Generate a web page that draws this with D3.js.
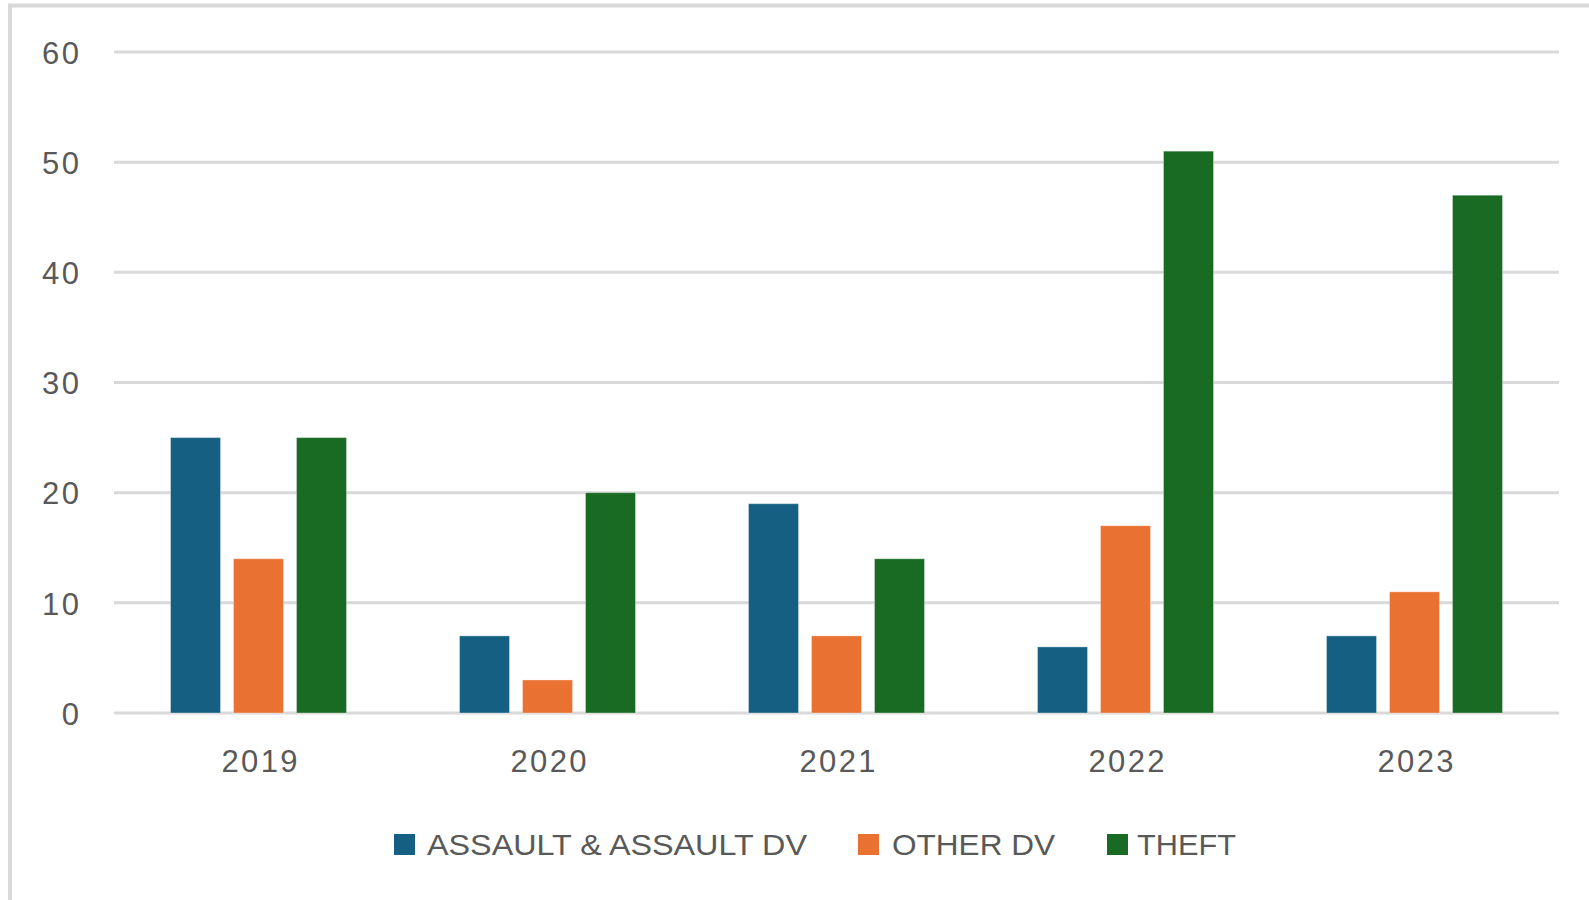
<!DOCTYPE html>
<html>
<head>
<meta charset="utf-8">
<script src="https://cdn.jsdelivr.net/npm/d3@7"></script>
<style>
  html, body { margin: 0; padding: 0; background: #fff; }
  svg { display: block; }
  text { font-family: "Liberation Sans", Arial, sans-serif; fill: #595959; }
</style>
</head>
<body>
<svg id="chart" width="1589" height="900"></svg>
<script>
const years = ["2019", "2020", "2021", "2022", "2023"];
const seriesNames = ["ASSAULT & ASSAULT DV", "OTHER DV", "THEFT"];
const assault = [25, 7, 19, 6, 7];
const otherDV = [14, 3, 7, 17, 11];
const theft = [25, 20, 14, 51, 47];
const colors = ["#156082", "#E97132", "#196B24"];
const yTicks = [0, 10, 20, 30, 40, 50, 60];

const seriesValues = [assault, otherDV, theft];

const svg = d3.select("#chart");

// outer chart border (only left & top visible in the crop)
svg.append("rect")
  .attr("x", 10).attr("y", 5.5)
  .attr("width", 1600).attr("height", 920)
  .attr("fill", "none").attr("stroke", "#d9d9d9").attr("stroke-width", 4);

const plotLeft = 114, plotRight = 1559, plotTop = 52, plotBottom = 713;

const x0 = d3.scaleBand().domain(years).range([plotLeft, plotRight])
  .paddingInner(0.391).paddingOuter(0.1955);
const x1 = d3.scaleBand().domain(seriesNames).range([0, x0.bandwidth()])
  .paddingInner(0.206).paddingOuter(0);
const y = d3.scaleLinear().domain([0, 60]).range([plotBottom, plotTop]);

// gridlines
svg.append("g").selectAll("line").data(yTicks).join("line")
  .attr("x1", plotLeft).attr("x2", plotRight)
  .attr("y1", d => y(d)).attr("y2", d => y(d))
  .attr("stroke", "#d9d9d9").attr("stroke-width", 3);

// bars
const rows = years.map((yr, i) => ({ year: yr, vals: seriesNames.map((s, j) => ({ s, j, v: seriesValues[j][i] })) }));
svg.append("g").selectAll("g").data(rows).join("g")
  .attr("transform", d => `translate(${x0(d.year)},0)`)
  .selectAll("rect").data(d => d.vals).join("rect")
  .attr("x", d => x1(d.s))
  .attr("y", d => y(d.v))
  .attr("width", x1.bandwidth())
  .attr("height", d => y(0) - y(d.v))
  .attr("fill", d => colors[d.j])
  .attr("stroke", "rgba(255,255,255,0.35)")
  .attr("stroke-width", 1);

const LS = 2.4;

// y axis labels
const yAxis = d3.axisLeft(y).tickValues(yTicks).tickSize(0).tickPadding(0);
const gy = svg.append("g").attr("transform", `translate(${79 + LS},0)`).call(yAxis);
gy.select(".domain").remove();
gy.selectAll("text")
  .attr("font-family", "Liberation Sans, Arial, sans-serif")
  .attr("font-size", 31).attr("fill", "#595959")
  .attr("letter-spacing", LS)
  .attr("dy", "0.36em");

// x axis labels
const xAxis = d3.axisBottom(x0).tickSize(0).tickPadding(0);
const gx = svg.append("g").attr("transform", `translate(${LS / 2 + 1},0)`).call(xAxis);
gx.select(".domain").remove();
gx.selectAll("text")
  .attr("font-family", "Liberation Sans, Arial, sans-serif")
  .attr("font-size", 31).attr("fill", "#595959")
  .attr("letter-spacing", LS)
  .attr("y", 772).attr("dy", 0);

// legend
const legendItems = [
  { name: seriesNames[0], color: colors[0], sx: 394, tx: 427, w: 380 },
  { name: seriesNames[1], color: colors[1], sx: 858, tx: 892, w: 163 },
  { name: seriesNames[2], color: colors[2], sx: 1107, tx: 1137, w: 99 }
];
const lg = svg.append("g");
lg.selectAll("rect").data(legendItems).join("rect")
  .attr("x", d => d.sx).attr("y", 834)
  .attr("width", 21).attr("height", 21)
  .attr("fill", d => d.color);
lg.selectAll("text").data(legendItems).join("text")
  .attr("x", d => d.tx).attr("y", 855)
  .attr("font-size", 29)
  .attr("textLength", d => d.w)
  .attr("lengthAdjust", "spacingAndGlyphs")
  .text(d => d.name);
</script>
</body>
</html>
